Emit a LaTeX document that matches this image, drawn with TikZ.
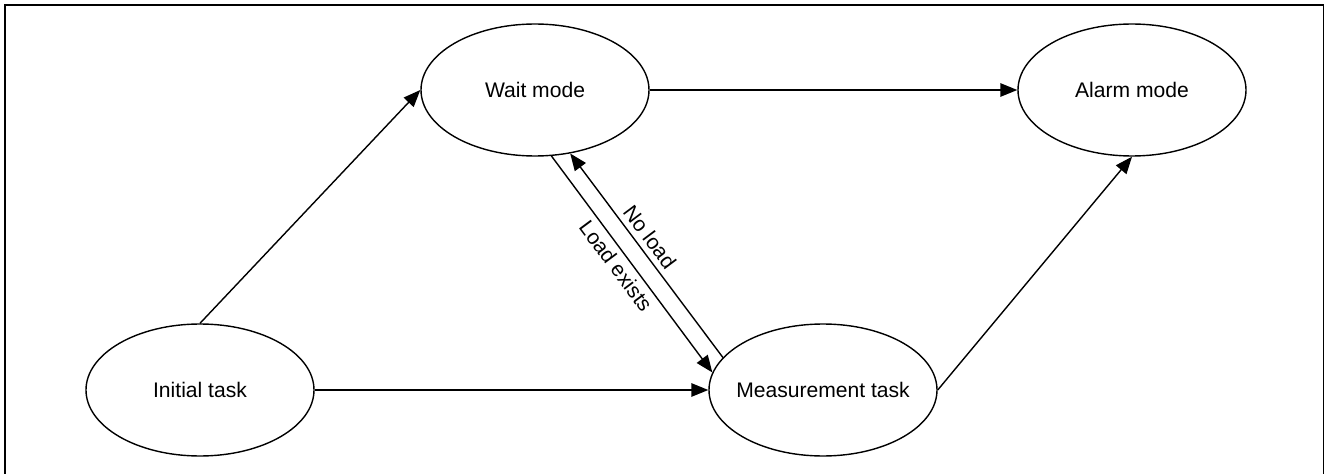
\documentclass[tikz,border=0pt]{standalone}
\usepackage{fontspec}
\setmainfont{Liberation Sans}
\usetikzlibrary{arrows.meta,shapes.geometric}

\begin{document}
\begin{tikzpicture}[
    state/.style={ellipse, draw, line width=0.8pt, minimum width=4.56cm, minimum height=2.64cm, inner xsep=-0.3cm, inner ysep=0pt, font=\fontsize{12}{14}\selectfont},
    trans/.style={line width=0.8pt, -{Triangle[length=0.34cm, width=0.27cm]}},
    back/.style={line width=0.8pt, {Triangle[length=0.34cm, width=0.27cm]}-},
    lbl/.style={font=\fontsize{12}{14}\selectfont, sloped, inner sep=3pt}
]
    \newcommand\figw{26.52}
    \newcommand\figh{9.46}

    \useasboundingbox (0,0) rectangle (\figw,\figh);
    \draw[line width=1.1pt] (0.1,-0.3) rectangle (\figw-0.05,\figh-0.1);

    % states
    \node[state] (wait) at (10.70, 7.66) {Wait mode};
    \node[state] (alarm) at (22.64, 7.66) {Alarm mode};
    \node[state] (init) at (4.00, 1.66) {Initial task};
    \node[state] (meas) at (16.46, 1.66) {Measurement task};

    % draw arrows
    \draw[trans] (init.north) -- (wait.west);
    \draw[trans] (init.east) -- (meas.west);
    \draw[trans] (wait.east) -- (alarm.west);
    \draw[trans] (meas.east) -- (alarm.south);
    \draw[trans] (wait.284) -- node[lbl, below, pos=0.47] {Load exists} (meas.171);
    \draw[back] (wait.299) -- node[lbl, above, pos=0.45] {No load} (meas.162);
\end{tikzpicture}
\end{document}
